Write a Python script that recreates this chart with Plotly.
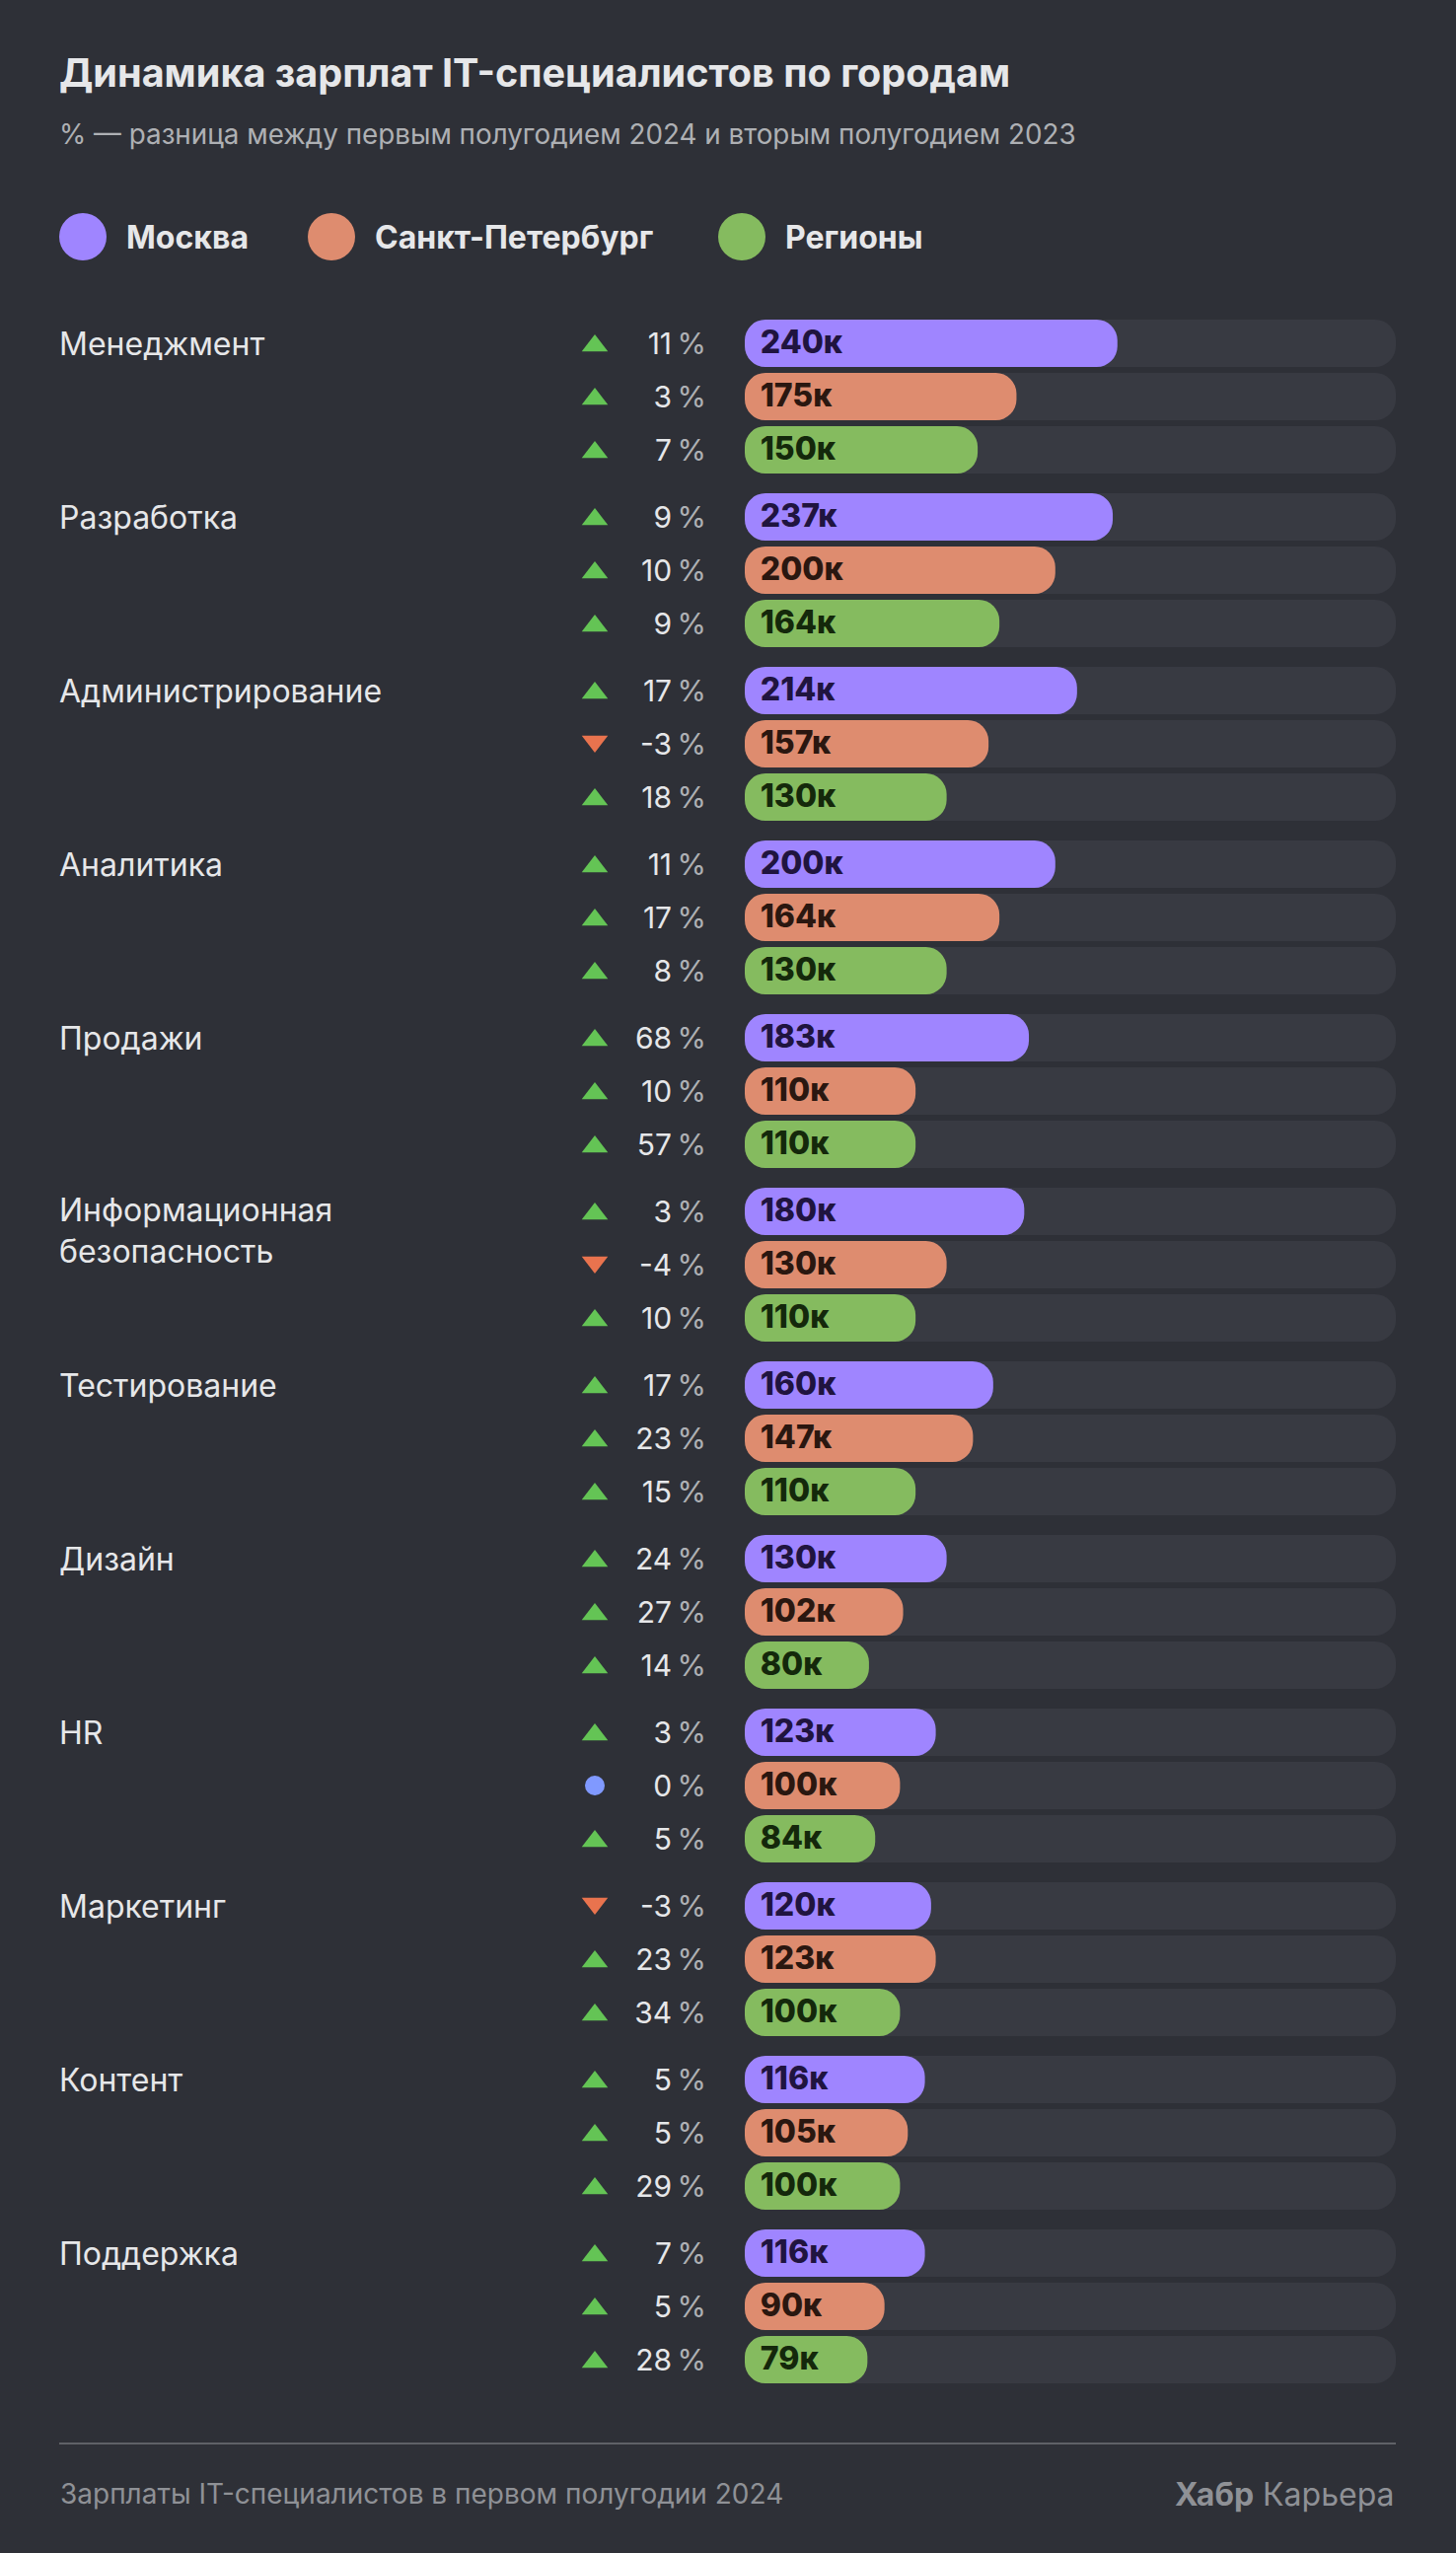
import plotly.graph_objects as go

W, H = 1476, 2588
FONT = "Inter"

# ---- data ----
categories = ["Менеджмент", "Разработка", "Администрирование", "Аналитика", "Продажи",
              "Информационная<br>безопасность", "Тестирование", "Дизайн", "HR",
              "Маркетинг", "Контент", "Поддержка"]
moscow = [240, 237, 214, 200, 183, 180, 160, 130, 123, 120, 116, 116]
spb = [175, 200, 157, 164, 110, 130, 147, 102, 100, 123, 105, 90]
regions = [150, 164, 130, 130, 110, 110, 110, 80, 84, 100, 100, 79]
moscow_pct = [11, 9, 17, 11, 68, 3, 17, 24, 3, -3, 5, 7]
spb_pct = [3, 10, -3, 17, 10, -4, 23, 27, 0, 23, 5, 5]
regions_pct = [7, 9, 18, 8, 57, 10, 15, 14, 5, 34, 29, 28]
series_names = ["Москва", "Санкт-Петербург", "Регионы"]

# ---- styles ----
BG = "#2e3037"
TRACK = "#383a42"
colors = ["#9f85ff", "#de8c6f", "#85bb5f"]
label_colors = ["#20143f", "#2a1710", "#14280b"]
UP, DOWN, FLAT = "#64c455", "#e9734e", "#8099ff"
TEXT = "#e6e7e9"
PCT = "#aeb0b4"
MUTED = "#8f9196"

# ---- geometry: one row = 1 y unit ----
ROW = 54.0
GROUP = 176 / ROW
Y0 = 348.0              # pixel centre of the first row
BAR_X0, BAR_X1 = 755, 1415
PX_PER_K = 1.574
TRACK_MAX = (BAR_X1 - BAR_X0) / PX_PER_K
BAR_H = 48 / ROW


def row_y(g, s):
    return g * GROUP + s


values = [moscow, spb, regions]
pcts = [moscow_pct, spb_pct, regions_pct]
n = len(categories)

fig = go.Figure()

# tracks (an explicit base makes plotly round both ends of a bar)
all_y = [row_y(g, s) for g in range(n) for s in range(3)]
fig.add_trace(go.Bar(x=[TRACK_MAX] * len(all_y), base=[0] * len(all_y), y=all_y, orientation="h",
                     width=BAR_H, marker=dict(color=TRACK, line=dict(width=0)), hoverinfo="skip",
                     name="фон", showlegend=False, xaxis="x", yaxis="y"))

# bars and labels
for s, name in enumerate(series_names):
    ys = [row_y(g, s) for g in range(n)]
    fig.add_trace(go.Bar(x=values[s], base=[0] * n, y=ys, orientation="h", width=BAR_H, name=name,
                         marker=dict(color=colors[s], line=dict(width=0)),
                         showlegend=False, xaxis="x", yaxis="y"))
    fig.add_trace(go.Scatter(x=[10.0] * n, y=[y + 2 / ROW for y in ys], mode="text",
                             text=[f"{v}к" for v in values[s]], textposition="middle right",
                             textfont=dict(family=FONT, size=32, color=label_colors[s], weight=800),
                             hoverinfo="skip", showlegend=False, cliponaxis=False,
                             xaxis="x", yaxis="y"))

# direction markers and percents
for s in range(3):
    ys = [row_y(g, s) for g in range(n)]
    p = pcts[s]
    sym = ["triangle-up" if v > 0 else "triangle-down" if v < 0 else "circle" for v in p]
    col = [UP if v > 0 else DOWN if v < 0 else FLAT for v in p]
    size = [23 if v != 0 else 20 for v in p]
    my = [y + (0.045 if v > 0 else -0.045 if v < 0 else 0) for y, v in zip(ys, p)]
    fig.add_trace(go.Scatter(x=[603] * n, y=my, mode="markers",
                             marker=dict(symbol=sym, color=col, size=size, opacity=1, line=dict(width=0)),
                             hoverinfo="skip", showlegend=False, xaxis="x2", yaxis="y"))
    fig.add_trace(go.Scatter(x=[716] * n, y=[y + 3 / ROW for y in ys], mode="text",
                             text=[f"{v}\u2009<span style='color:{PCT}'>%</span>" for v in p],
                             textposition="middle left",
                             textfont=dict(family=FONT, size=30, color=TEXT),
                             hoverinfo="skip", showlegend=False, cliponaxis=False,
                             xaxis="x2", yaxis="y"))

# category labels
cat_y = [row_y(g, 0) + (4 + c.count("<br>") * 19) / ROW for g, c in enumerate(categories)]
fig.add_trace(go.Scatter(x=[60] * n, y=cat_y, mode="text", text=categories,
                         textposition="middle right",
                         textfont=dict(family=FONT, size=32, color=TEXT),
                         hoverinfo="skip", showlegend=False, cliponaxis=False,
                         xaxis="x2", yaxis="y"))

shapes = []
annotations = []


def note(x, y, text, size, color, anchor="left", weight=None):
    annotations.append(dict(xref="paper", yref="paper", x=x / W, y=1 - y / H, text=text,
                            showarrow=False, xanchor=anchor, yanchor="middle",
                            xshift=0, yshift=0, borderpad=0,
                            font=dict(family=FONT, size=size, color=color, weight=weight)))


note(59, 74, "Динамика зарплат IT-специалистов по городам", 39.6, TEXT, weight=700)
note(59, 136, "% — разница между первым полугодием 2024 и вторым полугодием 2023", 27.8, PCT)

legend_x = [60, 312, 728]
for lx, name, c in zip(legend_x, series_names, colors):
    shapes.append(dict(type="circle", xref="paper", yref="paper", x0=lx / W, x1=(lx + 48) / W,
                       y0=1 - 264 / H, y1=1 - 216 / H, fillcolor=c, line=dict(width=0)))
    note(lx + 67, 240, name, 32, TEXT, weight=700)

shapes.append(dict(type="line", xref="paper", yref="paper", x0=60 / W, x1=1415 / W,
                   y0=1 - 2477 / H, y1=1 - 2477 / H, line=dict(color="#5f6167", width=2)))
note(60, 2528, "Зарплаты IT-специалистов в первом полугодии 2024", 28, MUTED)
note(1415, 2528, "<b>Хабр</b> Карьера", 32, MUTED, anchor="right")

fig.update_layout(
    width=W, height=H, autosize=False,
    margin=dict(l=0, r=0, t=0, b=0, pad=0),
    paper_bgcolor=BG, plot_bgcolor=BG,
    barmode="overlay", barcornerradius=21, showlegend=False,
    shapes=shapes, annotations=annotations,
    xaxis=dict(domain=[BAR_X0 / W, 1], range=[0, (W - BAR_X0) / PX_PER_K], visible=False, anchor="y"),
    xaxis2=dict(domain=[0, BAR_X0 / W], range=[0, BAR_X0], visible=False, anchor="y"),
    yaxis=dict(domain=[0, 1], range=[(H - Y0) / ROW, -Y0 / ROW], visible=False, anchor="x"),
)
fig.write_html("out.html", config=dict(displayModeBar=False),
               post_script=f"document.body.style.margin='0';document.body.style.background='{BG}';")
